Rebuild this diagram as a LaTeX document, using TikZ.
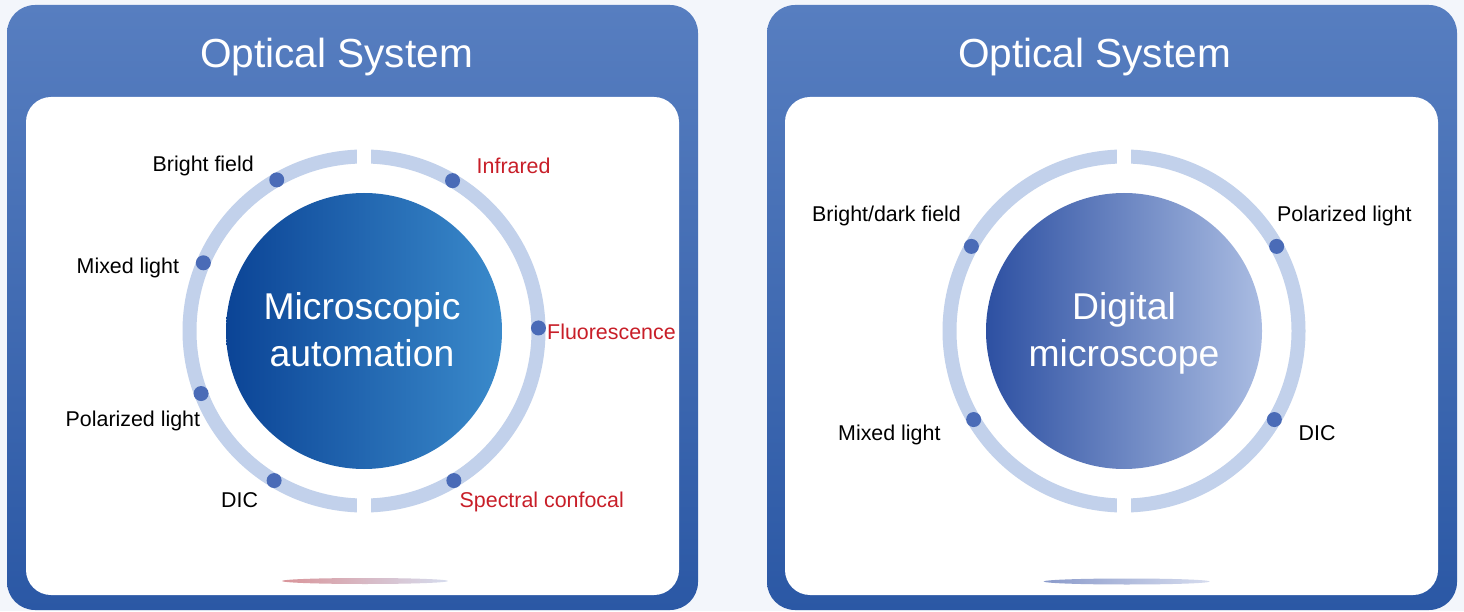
\documentclass[tikz,border=0pt]{standalone}
\usepackage{fontspec}
\setmainfont{Liberation Sans}

\definecolor{fond}{HTML}{F3F6FB}
\definecolor{panHaut}{HTML}{577EC0}
\definecolor{panBas}{HTML}{2B58A5}
\definecolor{bleuAnneau}{HTML}{C2D1EB}
\definecolor{bleuPoint}{HTML}{4A6BB7}
\definecolor{bleuFonce}{HTML}{0B4496}
\definecolor{bleuClair}{HTML}{3A8ACB}
\definecolor{violetFonce}{HTML}{2D50A2}
\definecolor{violetClair}{HTML}{AABCE2}
\definecolor{rougeTxt}{HTML}{C81E28}
\definecolor{ombreRouge}{HTML}{D9959A}
\definecolor{ombreBleu}{HTML}{8B9BCB}
\definecolor{ombreFin}{HTML}{D6DCEE}

\begin{document}
\begin{tikzpicture}[x=1pt,y=1pt,
    etiq/.style={anchor=base west, inner sep=0pt, font=\fontsize{21.4}{25}\selectfont},
    etiqR/.style={etiq, text=rougeTxt},
    titre/.style={anchor=base, inner sep=0pt, text=white, font=\fontsize{40.6}{48}\selectfont},
    coeur/.style={anchor=base, inner sep=0pt, text=white, text width=320pt, align=center,
                  font=\fontsize{37.3}{47}\selectfont},
    anneau/.style={draw=bleuAnneau, line width=14pt},
    pastille/.style={fill=bleuPoint}]

		\def\R{174.5}
		\def\r{138}
		\def\cy{280}
		
		% Fond et cadres
		\fill[fond] (0,0) rectangle (1464,611);
		\useasboundingbox (0,0) rectangle (1464,611);
		
		\foreach \xa/\xb/\ia/\ib in {7/698/26/679, 767/1457/785/1438}{
		    \shade[rounded corners=28pt, top color=panHaut, bottom color=panBas] (\xa,1) rectangle (\xb,606);
		    \fill[white, rounded corners=25pt] (\ia,16) rectangle (\ib,514);
		}
		
		\node[titre] (titreG) at (336.5,543) {Optical System};
		\node[titre] (titreD) at (1094.5,543) {Optical System};
		
		% Microscopie automatique
		\def\cx{364}
		
		    \draw[anneau] (\cx,\cy) circle (\R);
		    % On coupe l'anneau en haut et en bas
		    \fill[white] (\cx-7,\cy+155) rectangle (\cx+7,\cy+195);
		    \fill[white] (\cx-7,\cy-195) rectangle (\cx+7,\cy-155);
		    
		    \shade[left color=bleuFonce, right color=bleuClair] (\cx,\cy) circle (\r);
		    \node[coeur] (coeurG) at (\cx-2,291) {Microscopic\\automation};
		    
		    \foreach \a in {120,157,201,239,59.5,1,-59}{
		        \fill[pastille] (\cx,\cy) ++(\a:\R) circle (7.5);
		    }
		    
		    \node[etiq] (brightG) at (152.5,439.3) {Bright field};
		    \node[etiq] (mixedG) at (76.5,337) {Mixed light};
		    \node[etiq] (polarG) at (65.5,184.3) {Polarized light};
		    \node[etiq] (dicG) at (221,103.3) {DIC};
		    \node[etiqR] (infra) at (476.5,437.7) {Infrared};
		    \node[etiqR] (fluo) at (547,271) {Fluorescence};
		    \node[etiqR] (spectral) at (459.5,103.3) {Spectral confocal};
		    
		    \shade[left color=ombreRouge, right color=ombreFin] (365,30) ellipse (83 and 3);
		
		% Microscope numerique
		\def\cx{1124}
		
		    \draw[anneau] (\cx,\cy) circle (\R);
		    \fill[white] (\cx-7,\cy+155) rectangle (\cx+7,\cy+195);
		    \fill[white] (\cx-7,\cy-195) rectangle (\cx+7,\cy-155);
		    
		    \shade[left color=violetFonce, right color=violetClair] (\cx,\cy) circle (\r);
		    \node[coeur] (coeurD) at (\cx,291) {Digital\\microscope};
		    
		    \foreach \a in {151,29,210.5,-30.5}{
		        \fill[pastille] (\cx,\cy) ++(\a:\R) circle (7.5);
		    }
		    
		    \node[etiq] (brightD) at (812,389.3) {Bright/dark field};
		    \node[etiq] (polarD) at (1277,389.3) {Polarized light};
		    \node[etiq] (mixedD) at (838,170.3) {Mixed light};
		    \node[etiq] (dicD) at (1298.5,170.3) {DIC};
		    
		    \shade[left color=ombreBleu, right color=ombreFin] (1126.7,29.5) ellipse (83 and 3);
	
	\end{tikzpicture}
\end{document}
